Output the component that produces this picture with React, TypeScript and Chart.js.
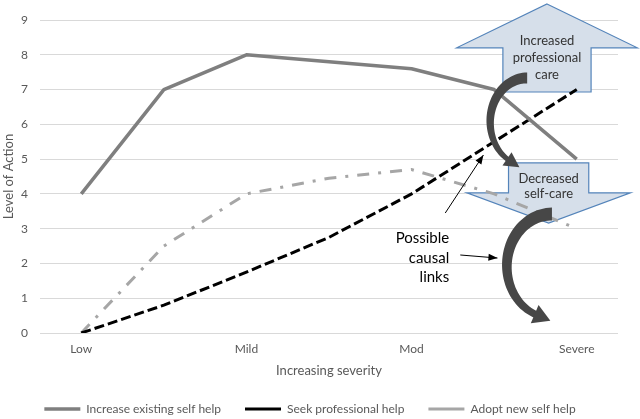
import React, { useEffect, useRef } from 'react';
import { Chart, registerables } from 'chart.js';

Chart.register(...registerables);

// ---------- data ----------
const categories = ['Low', 'Mild', 'Mod', 'Severe'];
const categoryPositions = [0, 1, 2, 3];

const seriesNames = ['Increase existing self help', 'Seek professional help', 'Adopt new self help'];

const existingX = [0, 0.5, 1, 2, 2.5, 3];
const existingY = [4, 7, 8, 7.6, 7, 5];

const seekX = [0, 0.5, 1, 1.5, 2, 2.5, 3];
const seekY = [0, 0.8, 1.75, 2.75, 4, 5.5, 7];

const adoptX = [0, 0.5, 1, 1.5, 2, 2.5, 3];
const adoptY = [0, 2.5, 4, 4.45, 4.7, 4.0, 3.0];

const xTitle = 'Increasing severity';
const yTitle = 'Level of Action';

const upArrowText = ['Increased', 'professional', 'care'];
const downArrowText = ['Decreased', 'self-care'];
const causalText = ['Possible', 'causal', 'links'];

// ---------- annotation geometry (data units) ----------
const UP = { x: 2.82, tip: 9.46, headBase: 8.2, headHalf: 0.547, shaftHalf: 0.267, bottom: 6.93, textY: [8.4, 7.91, 7.42] };
const DOWN = { x: 2.83, top: 4.89, headBase: 4.03, tip: 3.16, headHalf: 0.495, shaftHalf: 0.243, textY: [4.43, 4.0] };
const CURVE1 = { cx: 2.70, cy: 6.07, rx: 0.224, ry: 1.265, a0: -90, a1: -240, w0: 11, w1: 5, headHalf: 8, headLen: 13 };
const CURVE2 = { cx: 2.85, cy: 1.926, rx: 0.273, ry: 1.495, a0: -90, a1: -250, w0: 13, w1: 7, headHalf: 10, headLen: 15 };
const POINTER1 = { x0: 2.204, y0: 3.45, x1: 2.435, y1: 5.118 };
const POINTER2 = { x0: 2.295, y0: 2.243, x1: 2.52, y1: 2.156 };
const CAUSAL = { x: 2.228, y: [2.731, 2.156, 1.61] };

const FONT = 'Lato, "Open Sans", "DejaVu Sans", sans-serif';
const TEXT_GREY = '#595959';

function polygon(ctx: CanvasRenderingContext2D, pts: number[][]) {
  ctx.beginPath();
  pts.forEach(([px, py], i) => (i ? ctx.lineTo(px, py) : ctx.moveTo(px, py)));
  ctx.closePath();
}

function drawCurved(ctx: CanvasRenderingContext2D, X: (v: number) => number, Y: (v: number) => number, c: typeof CURVE1) {
  const cxp = X(c.cx);
  const cyp = Y(c.cy);
  const rxp = X(c.cx + c.rx) - cxp;
  const ryp = Y(c.cy) - Y(c.cy + c.ry);
  const N = 48;
  const outer: number[][] = [];
  const inner: number[][] = [];
  for (let i = 0; i <= N; i++) {
    const t = i / N;
    const th = ((c.a0 + (c.a1 - c.a0) * t) * Math.PI) / 180;
    const px = cxp + rxp * Math.cos(th);
    const py = cyp + ryp * Math.sin(th);
    let nx = Math.cos(th) * ryp;
    let ny = Math.sin(th) * rxp;
    const nl = Math.hypot(nx, ny);
    nx /= nl;
    ny /= nl;
    const w = (c.w0 + (c.w1 - c.w0) * t) / 2;
    outer.push([px + nx * w, py + ny * w]);
    inner.push([px - nx * w, py - ny * w]);
  }
  polygon(ctx, outer.concat(inner.reverse()));
  ctx.fill();
  const th = (c.a1 * Math.PI) / 180;
  const bx = cxp + rxp * Math.cos(th);
  const by = cyp + ryp * Math.sin(th);
  let dx = rxp * Math.sin(th);
  let dy = -ryp * Math.cos(th);
  const dl = Math.hypot(dx, dy);
  dx /= dl;
  dy /= dl;
  const pxn = -dy;
  const pyn = dx;
  polygon(ctx, [
    [bx + pxn * c.headHalf - dx * 2, by + pyn * c.headHalf - dy * 2],
    [bx + dx * c.headLen, by + dy * c.headLen],
    [bx - pxn * c.headHalf - dx * 2, by - pyn * c.headHalf - dy * 2],
  ]);
  ctx.fill();
}

function drawPointer(ctx: CanvasRenderingContext2D, x0: number, y0: number, x1: number, y1: number) {
  ctx.beginPath();
  ctx.moveTo(x0, y0);
  ctx.lineTo(x1, y1);
  ctx.stroke();
  let dx = x1 - x0;
  let dy = y1 - y0;
  const l = Math.hypot(dx, dy);
  dx /= l;
  dy /= l;
  const len = 9;
  const half = 3.5;
  polygon(ctx, [
    [x1, y1],
    [x1 - dx * len - dy * half, y1 - dy * len + dx * half],
    [x1 - dx * len + dy * half, y1 - dy * len - dx * half],
  ]);
  ctx.fill();
}

const annotationPlugin = {
  id: 'causalAnnotations',
  beforeDatasetsDraw(chart: any) {
    const { ctx } = chart;
    const xs = chart.scales.x;
    const ys = chart.scales.y;
    const X = (v: number) => xs.getPixelForValue(v);
    const Y = (v: number) => ys.getPixelForValue(v);
    ctx.save();
    ctx.fillStyle = '#d6dfea';
    ctx.strokeStyle = '#5484ba';
    ctx.lineWidth = 1.2;
    const u = UP;
    polygon(ctx, [
      [X(u.x), Y(u.tip)],
      [X(u.x + u.headHalf), Y(u.headBase)],
      [X(u.x + u.shaftHalf), Y(u.headBase)],
      [X(u.x + u.shaftHalf), Y(u.bottom)],
      [X(u.x - u.shaftHalf), Y(u.bottom)],
      [X(u.x - u.shaftHalf), Y(u.headBase)],
      [X(u.x - u.headHalf), Y(u.headBase)],
    ]);
    ctx.fill();
    ctx.stroke();
    const d = DOWN;
    polygon(ctx, [
      [X(d.x - d.shaftHalf), Y(d.top)],
      [X(d.x + d.shaftHalf), Y(d.top)],
      [X(d.x + d.shaftHalf), Y(d.headBase)],
      [X(d.x + d.headHalf), Y(d.headBase)],
      [X(d.x), Y(d.tip)],
      [X(d.x - d.headHalf), Y(d.headBase)],
      [X(d.x - d.shaftHalf), Y(d.headBase)],
    ]);
    ctx.fill();
    ctx.stroke();
    ctx.fillStyle = '#333333';
    ctx.font = `13px ${FONT}`;
    ctx.textAlign = 'center';
    ctx.textBaseline = 'middle';
    upArrowText.forEach((t, i) => ctx.fillText(t, X(u.x), Y(u.textY[i])));
    downArrowText.forEach((t, i) => ctx.fillText(t, X(d.x), Y(d.textY[i])));
    ctx.restore();
  },
  afterDatasetsDraw(chart: any) {
    const { ctx } = chart;
    const xs = chart.scales.x;
    const ys = chart.scales.y;
    const X = (v: number) => xs.getPixelForValue(v);
    const Y = (v: number) => ys.getPixelForValue(v);
    ctx.save();
    ctx.fillStyle = '#474747';
    drawCurved(ctx, X, Y, CURVE1);
    drawCurved(ctx, X, Y, CURVE2);
    ctx.strokeStyle = '#000000';
    ctx.fillStyle = '#000000';
    ctx.lineWidth = 1;
    drawPointer(ctx, X(POINTER1.x0), Y(POINTER1.y0), X(POINTER1.x1), Y(POINTER1.y1));
    drawPointer(ctx, X(POINTER2.x0), Y(POINTER2.y0), X(POINTER2.x1), Y(POINTER2.y1));
    ctx.font = `15px ${FONT}`;
    ctx.textAlign = 'right';
    ctx.textBaseline = 'middle';
    causalText.forEach((t, i) => ctx.fillText(t, X(CAUSAL.x), Y(CAUSAL.y[i])));
    ctx.restore();
  },
};

export default function App() {
  const ref = useRef<HTMLCanvasElement>(null);
  useEffect(() => {
    const toPoints = (xs: number[], ys: number[]) => xs.map((x, i) => ({ x, y: ys[i] }));
    const chart = new Chart(ref.current as HTMLCanvasElement, {
      type: 'line',
      data: {
        datasets: [
          {
            label: seriesNames[0],
            data: toPoints(existingX, existingY),
            borderColor: '#7f7f7f',
            backgroundColor: '#7f7f7f',
            borderWidth: 3.5,
            pointRadius: 0,
            borderCapStyle: 'butt',
            borderJoinStyle: 'round',
            yAxisID: 'y',
          },
          {
            label: seriesNames[1],
            data: toPoints(seekX, seekY),
            borderColor: '#000000',
            backgroundColor: '#000000',
            borderWidth: 3,
            borderDash: [10, 4],
            pointRadius: 0,
            borderCapStyle: 'butt',
            yAxisID: 'y',
          },
          {
            label: seriesNames[2],
            data: toPoints(adoptX, adoptY),
            borderColor: '#a6a6a6',
            backgroundColor: '#a6a6a6',
            borderWidth: 3,
            borderDash: [12, 9, 3, 9],
            pointRadius: 0,
            borderCapStyle: 'butt',
            yAxisID: 'y',
          },
        ],
      },
      options: {
        responsive: false,
        animation: false,
        layout: { padding: { top: 20, right: 20, left: 0, bottom: 0 } },
        plugins: {
          tooltip: { enabled: false },
          legend: {
            position: 'bottom',
            maxHeight: 40,
            labels: {
              usePointStyle: true,
              pointStyle: 'line',
              pointStyleWidth: 36,
              padding: 24,
              color: TEXT_GREY,
              font: { family: FONT, size: 12 },
            },
          },
        },
        scales: {
          x: {
            type: 'linear',
            min: -0.25,
            max: 3.25,
            afterBuildTicks: (s: any) => {
              s.ticks = categoryPositions.map((v) => ({ value: v }));
            },
            afterFit: (s: any) => {
              s.height = 46;
            },
            ticks: {
              callback: (v: any) => categories[categoryPositions.indexOf(Number(v))] ?? '',
              color: TEXT_GREY,
              font: { family: FONT, size: 12 },
              padding: 9,
              maxRotation: 0,
            },
            grid: { display: false, drawTicks: false },
            border: { display: false },
            title: { display: true, text: xTitle, color: TEXT_GREY, font: { family: FONT, size: 13 }, padding: 0 },
          },
          y: {
            type: 'linear',
            position: 'left',
            min: 0,
            max: 9,
            afterFit: (s: any) => {
              s.width = 40;
            },
            ticks: { stepSize: 1, color: TEXT_GREY, font: { family: FONT, size: 12 }, padding: 12 },
            grid: { color: '#d9d9d9', lineWidth: 1, drawTicks: false },
            border: { display: false },
            title: { display: true, text: yTitle, color: TEXT_GREY, font: { family: FONT, size: 13 }, padding: { top: 1, bottom: 0 } },
          },
          yRight: {
            type: 'linear',
            position: 'right',
            display: true,
            afterFit: (s: any) => {
              s.width = 2;
            },
            ticks: { display: false },
            grid: { display: false, drawTicks: false },
            border: { display: false },
          },
        },
      },
      plugins: [annotationPlugin],
    } as any);
    return () => chart.destroy();
  }, []);
  return (
    <div style={{ position: 'absolute', left: 0, top: 0, width: 640, height: 419, background: '#ffffff' }}>
      <canvas ref={ref} width={640} height={419} style={{ width: 640, height: 419, display: 'block' }} />
    </div>
  );
}
